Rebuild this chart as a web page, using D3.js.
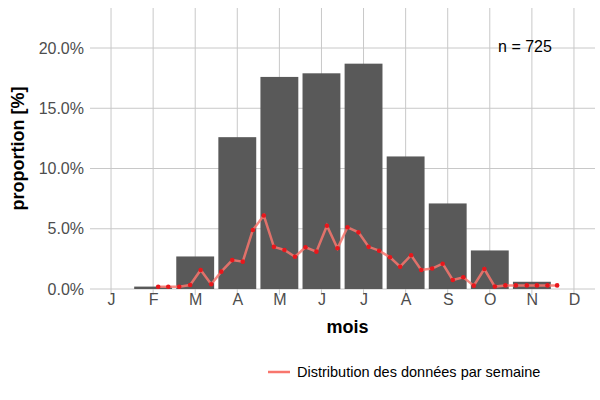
<!DOCTYPE html><html><head><script src="https://cdn.jsdelivr.net/npm/d3@7"></script>
<style>body{margin:0;background:#fff}</style></head><body><svg id="c" width="600" height="400"></svg>
<script>
const months=["J","F","M","A","M","J","J","A","S","O","N","D"];
const barValues=[0,0.2,2.7,12.6,17.6,17.9,18.7,11.0,7.1,3.2,0.6,0];
const weekPos=[1.12,1.36,1.62,1.88,2.13,2.38,2.62,2.88,3.13,3.37,3.63,3.87,4.12,4.37,4.62,4.88,5.13,5.38,5.62,5.88,6.12,6.37,6.63,6.87,7.13,7.37,7.63,7.88,8.12,8.37,8.62,8.87,9.12,9.37,9.62,9.88,10.12,10.37,10.6];
const weekValues=[0.19,0.19,0.19,0.33,1.58,0.4,1.44,2.4,2.27,4.9,6.1,3.5,3.24,2.68,3.46,3.1,5.25,3.38,5.12,4.7,3.5,3.18,2.63,1.85,2.8,1.58,1.7,2.1,0.75,0.97,0.28,1.66,0.2,0.3,0.3,0.3,0.3,0.3,0.3];
const yTicks=[0,5,10,15,20];
const svg=d3.select("#c");
const L=90,R=595,T=8,B=289;
const x=d3.scaleBand().domain(d3.range(12)).range([L,R]).paddingInner(0.1).paddingOuter(0.05);
const xc=d3.scaleLinear().domain([0,11]).range([x(0)+x.bandwidth()/2,x(11)+x.bandwidth()/2]);
const y=d3.scaleLinear().domain([0,20]).range([B,48]);
const g=svg.append("g");
g.selectAll(".hg").data(yTicks).join("line").attr("x1",L).attr("x2",R).attr("y1",d=>y(d)).attr("y2",d=>y(d)).attr("stroke","#c8c8c8");
g.selectAll(".vg").data(d3.range(12)).join("line").attr("x1",d=>xc(d)).attr("x2",d=>xc(d)).attr("y1",T).attr("y2",B+6).attr("stroke","#c8c8c8");
g.selectAll(".bar").data(barValues).join("rect").attr("x",(d,i)=>x(i)).attr("width",x.bandwidth()).attr("y",d=>y(d)).attr("height",d=>B-y(d)).attr("fill","#595959");
const pts=weekPos.map((p,i)=>[p,weekValues[i]]);
g.append("path").datum(pts).attr("d",d3.line().x(d=>xc(d[0])).y(d=>y(d[1]))).attr("fill","none").attr("stroke","#f8766d").attr("stroke-width",2.5).attr("opacity",0.85);
g.selectAll(".pt").data(pts).join("circle").attr("cx",d=>xc(d[0])).attr("cy",d=>y(d[1])).attr("r",2.3).attr("fill","#e8171c");
const ya=svg.append("g").attr("transform",`translate(${L},0)`).call(d3.axisLeft(y).tickValues(yTicks).tickFormat(d=>d.toFixed(1)+"%").tickSize(0).tickPadding(6));
ya.select(".domain").remove();ya.selectAll("text").attr("font-family","Liberation Sans, Arial").attr("font-size",16).attr("fill","#4d4d4d");
const xa=svg.append("g").attr("transform",`translate(0,${B})`).call(d3.axisBottom(xc).tickValues(d3.range(12)).tickFormat(i=>months[i]).tickSize(0).tickPadding(5));
xa.select(".domain").remove();xa.selectAll("text").attr("font-family","Liberation Sans, Arial").attr("font-size",16).attr("fill","#4d4d4d");
svg.append("text").attr("x",(L+R)/2+5).attr("y",333).attr("text-anchor","middle").attr("font-family","Liberation Sans, Arial").attr("font-weight","bold").attr("font-size",18).text("mois");
svg.append("text").attr("transform","translate(24,"+((T+B)/2)+") rotate(-90)").attr("text-anchor","middle").attr("font-family","Liberation Sans, Arial").attr("font-weight","bold").attr("font-size",18).text("proportion [%]");
svg.append("text").attr("x",525).attr("y",52).attr("text-anchor","middle").attr("font-family","Liberation Sans, Arial").attr("font-size",16).text("n = 725");
svg.append("line").attr("x1",268).attr("x2",290).attr("y1",372).attr("y2",372).attr("stroke","#f8766d").attr("stroke-width",2.5);
svg.append("text").attr("x",297).attr("y",377).attr("font-family","Liberation Sans, Arial").attr("font-size",14.5).text("Distribution des données par semaine");
</script></body></html>
